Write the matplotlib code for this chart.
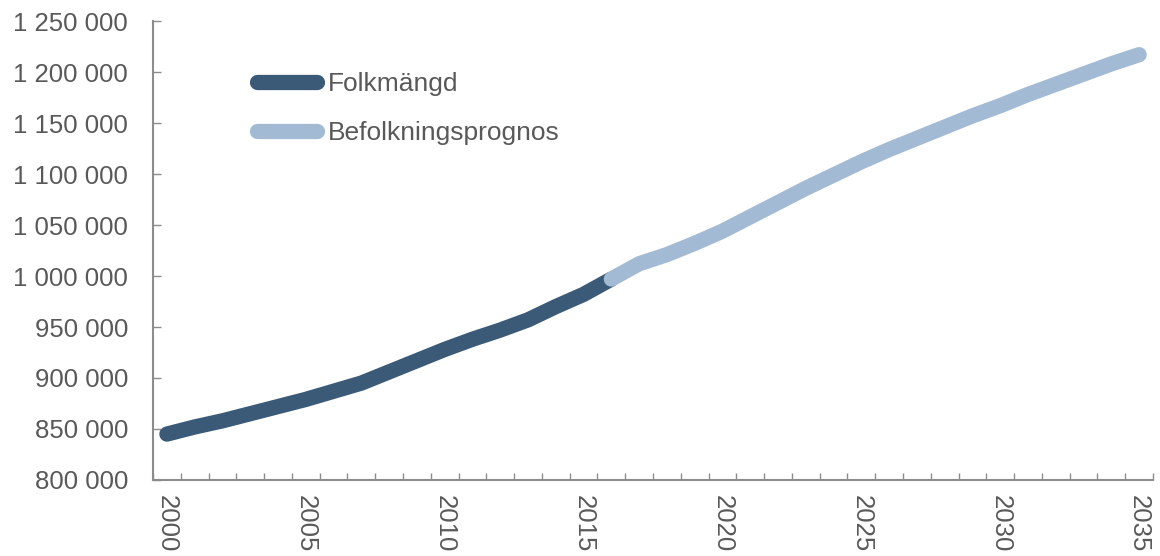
import numpy as np
import matplotlib.pyplot as plt
from matplotlib.ticker import FuncFormatter, FixedLocator

# Folkmängd (observed population)
hist_years = list(range(2000, 2017))
hist_pop = [845000, 852000, 858000, 865000, 872000, 879000, 887000, 895000,
            906000, 917000, 928000, 938000, 947000, 957000, 970000, 982000, 997000]

# Befolkningsprognos (forecast)
prog_years = list(range(2016, 2036))
prog_pop = [997000, 1012000, 1021000, 1032000, 1044000, 1058000, 1072000,
            1086000, 1099000, 1112000, 1124000, 1135000, 1146000, 1157000,
            1167000, 1178000, 1188000, 1198000, 1208000, 1217000]

label_years = [2000, 2005, 2010, 2015, 2020, 2025, 2030, 2035]

dark = "#3A5A78"
light = "#A3BAD4"
grey = "#595959"
axis_grey = "#8C8C8C"

plt.rcParams["font.family"] = ["Liberation Sans", "DejaVu Sans"]

fig = plt.figure(figsize=(11.6, 5.56), dpi=100)
ax = fig.add_axes([0.1319, 0.1367, 0.8621, 0.8255])

ax.plot(hist_years, hist_pop, color=dark, lw=11, solid_capstyle="round",
        label="Folkmängd", zorder=2)
ax.plot(prog_years, prog_pop, color=light, lw=11, solid_capstyle="round",
        label="Befolkningsprognos", zorder=3)

ax.set_xlim(1999.5, 2035.5)
ax.set_ylim(800000, 1250000)
ax.set_yticks(np.arange(800000, 1250001, 50000))
ax.yaxis.set_major_formatter(FuncFormatter(lambda v, p: f"{int(v):,}".replace(",", " ")))

# category-style ticks between years, labels at year centres
ax.xaxis.set_major_locator(FixedLocator(np.arange(1999.5, 2036, 1)))
ax.xaxis.set_minor_locator(FixedLocator(label_years))
ax.xaxis.set_major_formatter(FuncFormatter(lambda v, p: ""))
ax.xaxis.set_minor_formatter(FuncFormatter(lambda v, p: f"{int(v)}"))
ax.tick_params(axis="x", which="major", direction="in", length=5, width=1, color=axis_grey)
ax.tick_params(axis="x", which="minor", length=0, pad=11, labelsize=18.5,
               labelcolor=grey, labelrotation=-90)
for t in ax.xaxis.get_minorticklabels():
    t.set_va("top")
ax.tick_params(axis="y", direction="in", length=6, width=1, color=axis_grey,
               pad=18, labelsize=18.5, labelcolor=grey)

for s in ["top", "right"]:
    ax.spines[s].set_visible(False)
for s in ["left", "bottom"]:
    ax.spines[s].set_color(axis_grey)
    ax.spines[s].set_linewidth(1.5)

leg = ax.legend(loc="upper left", bbox_to_anchor=(0.08, 0.94), frameon=False,
                fontsize=19, handlelength=2.3, handletextpad=0.4, labelspacing=0.93)
for t in leg.get_texts():
    t.set_color(grey)

fig.savefig("out.png", dpi=100)
